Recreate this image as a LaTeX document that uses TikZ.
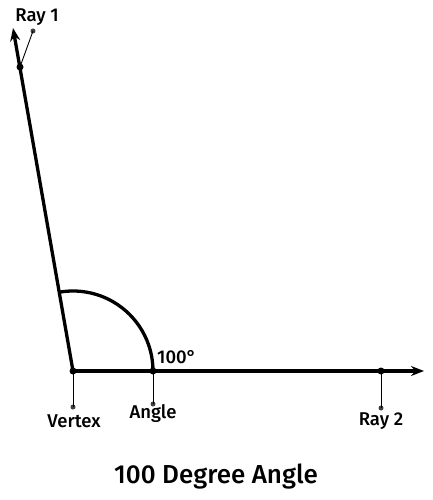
\documentclass[tikz,border=0pt]{standalone}
\usepackage{fontspec}
\setmainfont{Fira Sans}
\newfontfamily\medfont{Fira Sans Medium}
\usetikzlibrary{arrows.meta}
\begin{document}
\begin{tikzpicture}[x=1pt,y=-1pt,
  ray/.style={line width=3.3pt,-{Stealth[length=13pt,width=10pt]}},
  leader/.style={line width=0.9pt},
  bigdot/.style={circle,fill=black,inner sep=0pt,minimum size=7pt},
  smalldot/.style={circle,fill=black!75,inner sep=0pt,minimum size=5pt},
  lbl/.style={font=\medfont\fontsize{18.5}{20}\selectfont,inner sep=0pt},
  ttl/.style={font=\medfont\fontsize{26}{30}\selectfont,inner sep=0pt}]
\useasboundingbox (0,0) rectangle (433,500);
% points
\coordinate (V) at (73,371);
\coordinate (R1) at (13,28);
\coordinate (R2) at (424,371);
\node[bigdot] (v) at (V) {};
\node[bigdot] (r1d) at (20,67) {};
\node[bigdot] (r2d) at (381,371) {};
\node[bigdot] (ad) at (153,371) {};
\node[smalldot] (r1e) at (33,31) {};
\node[smalldot] (r2e) at (381,408) {};
\node[smalldot] (ve) at (73,407) {};
\node[smalldot] (ae) at (153,404) {};
% rays
\draw[ray] (V) -- (R1);
\draw[ray] (V) -- (R2);
% angle arc
\draw[line width=3.3pt] (153,371) arc[start angle=0,end angle=-100,radius=80];
% leaders
\draw[leader] (r1d.center) -- (r1e.center);
\draw[leader] (r2d.center) -- (r2e.center);
\draw[leader] (v.center) -- (ve.center);
\draw[leader] (ad.center) -- (ae.center);
% labels
\node[lbl] (t1) at (37,17) {Ray 1};
\node[lbl] (t2) at (381,421) {Ray 2};
\node[lbl] (tv) at (74,421) {Vertex};
\node[lbl] (ta) at (153,414) {Angle};
\node[lbl,anchor=west] (tdeg) at (157,357) {100°};
\node[ttl] (title) at (216,477) {100 Degree Angle};
\end{tikzpicture}
\end{document}
